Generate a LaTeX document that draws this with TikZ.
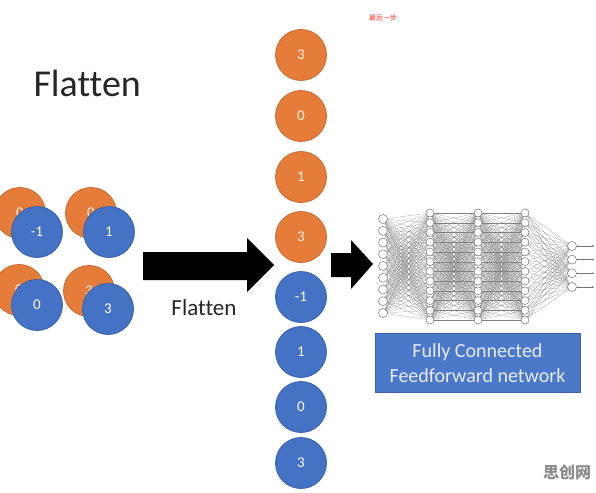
\documentclass[tikz,border=0pt]{standalone}
\usepackage{fontspec}
\setmainfont{Carlito}[Ligatures=NoCommon]
\newfontfamily\cjkfont{Noto Sans CJK SC}
\usetikzlibrary{arrows.meta}
\definecolor{ofcblue}{HTML}{4472C4}
\definecolor{ofcblueedge}{HTML}{3A62AA}
\definecolor{ofcorange}{HTML}{E67C3A}
\definecolor{ofcorangeedge}{HTML}{C9692E}
\definecolor{boxblue}{HTML}{4B79C9}
\tikzset{
  bluecirc/.style={circle, fill=ofcblue, draw=ofcblueedge, line width=0.8pt, minimum size=51pt, inner sep=0pt, text=white, font=\fontsize{15}{15}\selectfont},
  orangecirc/.style={circle, fill=ofcorange, draw=ofcorangeedge, line width=0.8pt, minimum size=51pt, inner sep=0pt, text=white!90!orange, font=\fontsize{15}{15}\selectfont},
  neuron/.style={circle, fill=white, draw=black!55, line width=0.5pt, minimum size=8pt, inner sep=0pt},
  synapse/.style={draw=black!50, line width=0.15pt},
  bigarrow/.style={fill=black, draw=none},
}
\begin{document}
\begin{tikzpicture}[x=1pt, y=-1pt]
\useasboundingbox (0,0) rectangle (596,492);
\fill[white] (0,0) rectangle (596,492);

% titles
\node[anchor=base west, font=\fontsize{38}{38}\selectfont, text=black!85] (title) at (30,97) {Flatten};
\node[anchor=base, font=\fontsize{23}{23}\selectfont, text=black!85] (flatlbl) at (204,315) {Flatten};
\node[font=\cjkfont\fontsize{7}{7}\selectfont, text=red!80] (step) at (383,18) {最后一步};
\node[font=\cjkfont\bfseries\fontsize{16}{16}\selectfont, text=black!45] (wm) at (567,472) {思创网};

% 2x2 feature maps
\node[orangecirc] (o1) at (20,213) {0};
\node[bluecirc] (b1) at (37,232) {-1};
\node[orangecirc] (o2) at (91,213) {0};
\node[bluecirc] (b2) at (109,232) {1};
\node[orangecirc] (o3) at (19,290) {0};
\node[bluecirc] (b3) at (37,305) {0};
\node[orangecirc] (o4) at (89,291) {3};
\node[bluecirc] (b4) at (108,309) {3};

% big arrows
\fill[bigarrow] (143,252) -- (247,252) -- (247,238) -- (274,265) -- (247,292) -- (247,280) -- (143,280) -- cycle;
\fill[bigarrow] (331,253) -- (351,253) -- (351,240) -- (373,264) -- (351,289) -- (351,277) -- (331,277) -- cycle;

% flattened column
\foreach \v/\y [count=\i] in {3/55,0/116,1/177,3/237}
  \node[orangecirc] (c\i) at (301,\y) {\v};
\foreach \v/\y [count=\i from 5] in {-1/297,1/352,0/407,3/463}
  \node[bluecirc] (c\i) at (301,\y) {\v};

% neural network
\foreach \i in {1,...,9}
  \coordinate (pA\i) at (383,{219+(\i-1)*11.75});
\foreach \L/\x in {B/430,C/478,D/525}
  \foreach \i in {1,...,12}
    \coordinate (p\L\i) at (\x,{213+(\i-1)*9.73});
\foreach \i in {1,...,4}
  \coordinate (pE\i) at (572,{246+(\i-1)*13.67});

\foreach \i in {1,...,9}
  \foreach \j in {1,...,12}
    \draw[synapse] (pA\i) -- (pB\j);
\foreach \P/\Q in {B/C,C/D}
  \foreach \i in {1,...,12}
    \foreach \j in {1,...,12}
      \draw[synapse] (p\P\i) -- (p\Q\j);
\foreach \i in {1,...,12}
  \foreach \j in {1,...,4}
    \draw[synapse] (pD\i) -- (pE\j);

\foreach \i in {1,...,9}
  \node[neuron, minimum size=9pt] (nA\i) at (pA\i) {};
\foreach \L in {B,C,D}
  \foreach \i in {1,...,12}
    \node[neuron] (n\L\i) at (p\L\i) {};
\foreach \i in {1,...,4} {
  \node[neuron, minimum size=9pt] (nE\i) at (pE\i) {};
  \coordinate (out\i) at (594,{246+(\i-1)*13.67});
  \draw[black!55, line width=0.4pt, -{Stealth[length=2pt,width=2pt]}] (nE\i) -- (out\i);
}

% box
\node[fill=boxblue, draw=ofcblueedge, line width=0.8pt, minimum width=205pt, minimum height=59pt, inner sep=0pt, text=white!92!blue, align=center, font=\fontsize{20}{25}\selectfont] (fcbox) at (477.5,363) {Fully Connected\\Feedforward network};
\end{tikzpicture}
\end{document}
